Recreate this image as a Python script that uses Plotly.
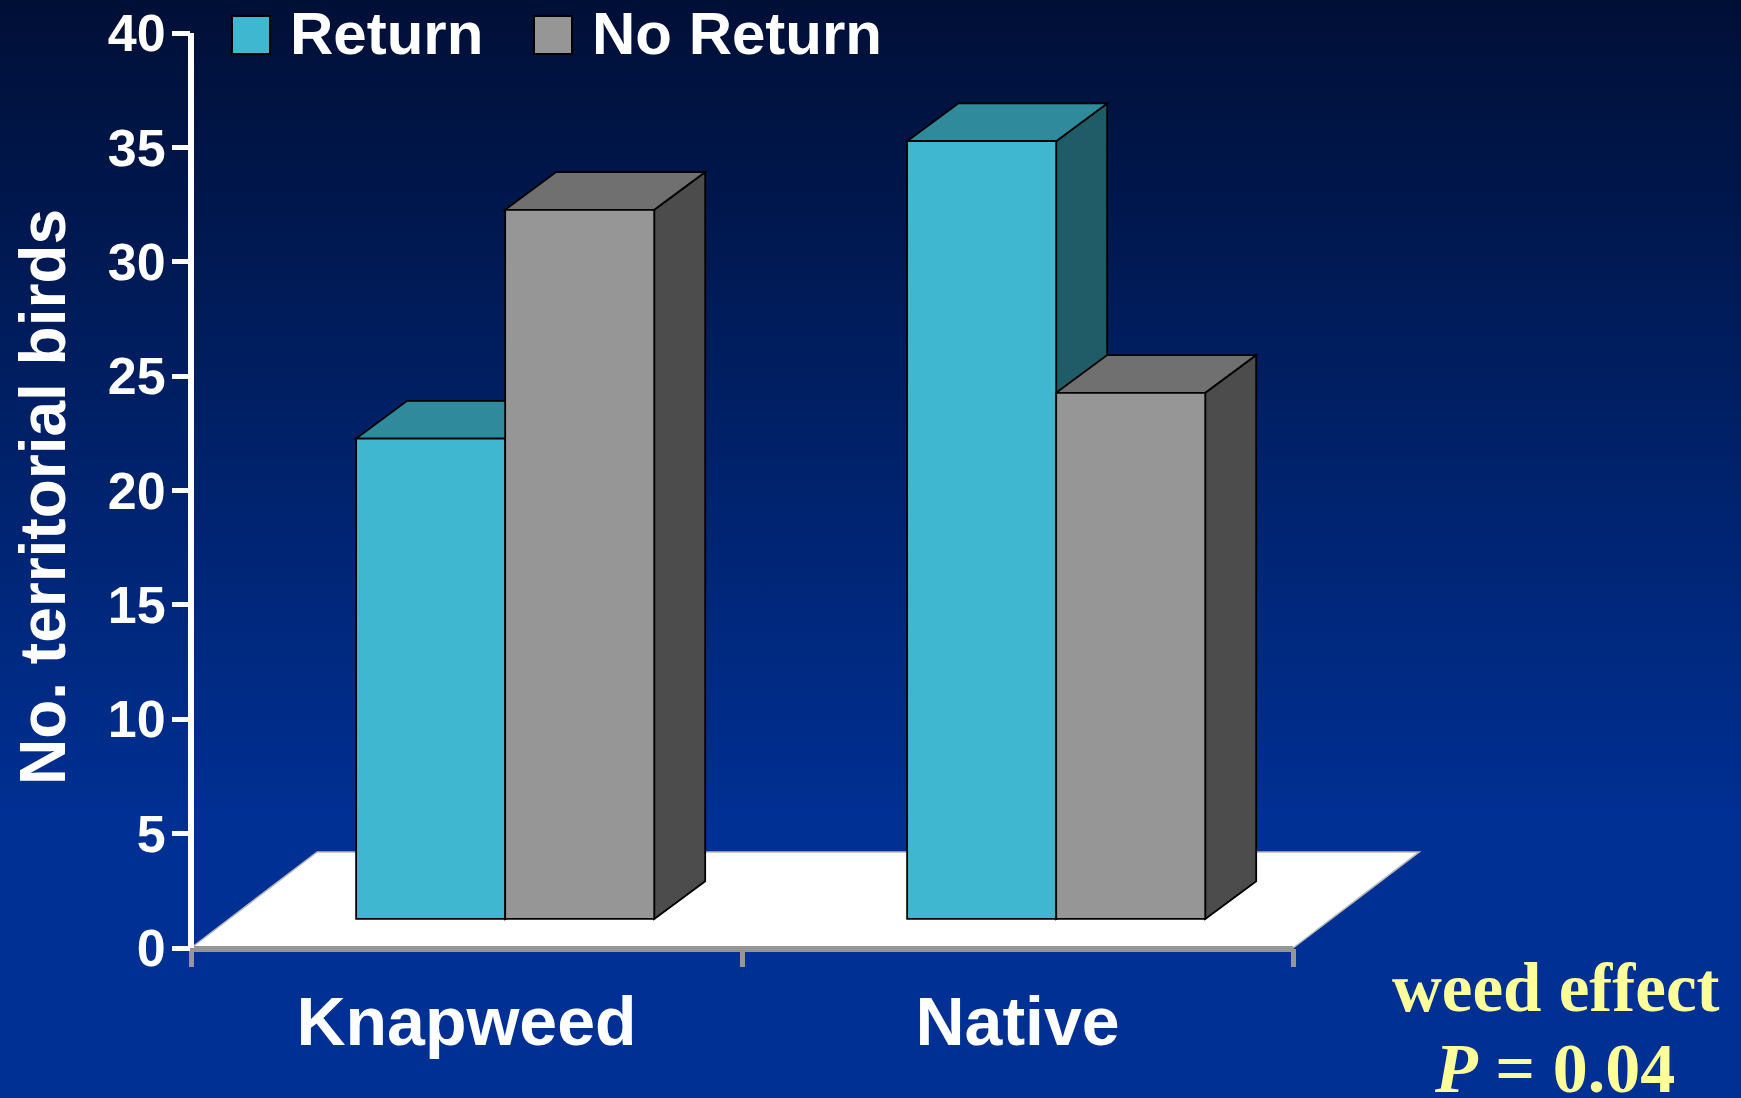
import base64
import plotly.graph_objects as go

categories = ["Knapweed", "Native"]
return_birds = [21, 34]
no_return_birds = [31, 23]
y_ticks = [0, 5, 10, 15, 20, 25, 30, 35, 40]
series_names = ["Return", "No Return"]

WIDTH, HEIGHT = 1741, 1098
LEFT, RIGHT, TOP, BOTTOM = 191, 448, 33, 150
PLOT_W = WIDTH - LEFT - RIGHT
PLOT_H = HEIGHT - TOP - BOTTOM

# fake 3d look: how far the box goes back, in axis units
BAR_W = 0.2705
BAR_SHIFT = 0.0702
BAR_BASE = 1.27
DEPTH_X = 0.0925
DEPTH_Y = 1.65
FLOOR_X = 0.229
FLOOR_Y = 4.2

CYAN, CYAN_TOP, CYAN_SIDE = "#3fb7d0", "#2f8a9c", "#205c68"
GREY, GREY_TOP, GREY_SIDE = "#969696", "#707070", "#4c4c4c"
YELLOW = "#ffff99"
SANS = "Liberation Sans"
SERIF = "Liberation Serif"


def paper_x(px):
    return (px - LEFT) / PLOT_W


def paper_y(px):
    return 1 - (px - TOP) / PLOT_H


def polygon(points, fill):
    path = "M" + " L".join(f"{x},{y}" for x, y in points) + " Z"
    return dict(type="path", path=path, xref="x", yref="y", layer="below",
                fillcolor=fill, line=dict(color="black", width=1.8))


def box_shapes(left, value, top_col, side_col):
    right = left + BAR_W
    high = BAR_BASE + value
    side = [(right, BAR_BASE), (right + DEPTH_X, BAR_BASE + DEPTH_Y),
            (right + DEPTH_X, high + DEPTH_Y), (right, high)]
    top = [(left, high), (left + DEPTH_X, high + DEPTH_Y),
           (right + DEPTH_X, high + DEPTH_Y), (right, high)]
    return [polygon(side, side_col), polygon(top, top_col)]


positions = list(range(len(categories)))

# the floor sticks out past the axis range, so it goes in paper coordinates (x axis spans 2 units)
floor_dx = FLOOR_X / 2
floor_dy = FLOOR_Y / 40
shapes = [dict(type="path", xref="paper", yref="paper", layer="below",
               path=f"M0,0 L{floor_dx},{floor_dy} L{1 + floor_dx},{floor_dy} L1,0 Z",
               fillcolor="white", line=dict(color="#b8b8b8", width=1.5))]
for i in positions:
    shapes += box_shapes(i + BAR_SHIFT - BAR_W, return_birds[i], CYAN_TOP, CYAN_SIDE)
for i in positions:
    shapes += box_shapes(i + BAR_SHIFT, no_return_birds[i], GREY_TOP, GREY_SIDE)

# axis lines sit centred on the plot edge in the original, plotly's own would sit outside it
shapes.append(dict(type="line", xref="paper", yref="paper", x0=0, x1=1, y0=paper_y(949), y1=paper_y(949),
                   line=dict(color=GREY, width=6)))
shapes.append(dict(type="line", xref="paper", yref="paper", x0=0, x1=0, y0=0, y1=1,
                   line=dict(color="white", width=6)))

# legend keys are much bigger than plotly's legend can draw them
for x0, col in [(232, CYAN), (534, GREY)]:
    shapes.append(dict(type="rect", xref="paper", yref="paper",
                       x0=paper_x(x0), x1=paper_x(x0 + 38), y0=paper_y(54), y1=paper_y(16),
                       fillcolor=col, line=dict(color="black", width=2)))

fig = go.Figure()
fig.add_trace(go.Bar(x=positions, y=return_birds, base=BAR_BASE, name=series_names[0],
                     width=BAR_W, offset=BAR_SHIFT - BAR_W, marker_color=CYAN,
                     marker_line=dict(color="black", width=1.8)))
fig.add_trace(go.Bar(x=positions, y=no_return_birds, base=BAR_BASE, name=series_names[1],
                     width=BAR_W, offset=BAR_SHIFT, marker_color=GREY,
                     marker_line=dict(color="black", width=1.8)))

svg = f"""<svg xmlns='http://www.w3.org/2000/svg' width='{WIDTH}' height='{HEIGHT}' preserveAspectRatio='none'>
<defs><linearGradient id='g' x1='0' y1='0' x2='0' y2='1'>
<stop offset='0' stop-color='#000f36'/><stop offset='0.75' stop-color='#003094'/>
<stop offset='1' stop-color='#003094'/></linearGradient></defs>
<rect width='100%' height='100%' fill='url(#g)'/></svg>"""
background = "data:image/svg+xml;base64," + base64.b64encode(svg.encode()).decode()

annotations = [
    dict(text=f"<b>{series_names[0]}</b>", x=paper_x(288), y=paper_y(33),
         font=dict(family=SANS, size=60, color="white"), xanchor="left", yanchor="middle"),
    dict(text=f"<b>{series_names[1]}</b>", x=paper_x(590), y=paper_y(33),
         font=dict(family=SANS, size=60, color="white"), xanchor="left", yanchor="middle"),
    dict(text="<b>No. territorial birds</b>", x=paper_x(43), y=paper_y(497), textangle=-90,
         font=dict(family=SANS, size=64, color="white"), xanchor="center", yanchor="middle"),
    dict(text="<b>weed effect</b>", x=paper_x(1556), y=paper_y(988),
         font=dict(family=SERIF, size=69, color=YELLOW), xanchor="center", yanchor="middle"),
    # box kept short so it ends at the page edge, the glyphs still fit inside it
    dict(text="<b><i>P</i> = 0.04</b>", x=paper_x(1554), y=paper_y(1063.5), height=67, valign="top",
         font=dict(family=SERIF, size=70, color=YELLOW), xanchor="center", yanchor="middle"),
]
for a in annotations:
    a.update(xref="paper", yref="paper", showarrow=False)

fig.update_layout(
    width=WIDTH, height=HEIGHT,
    margin=dict(l=LEFT, r=RIGHT, t=TOP, b=BOTTOM, autoexpand=False),
    paper_bgcolor="rgba(0,0,0,0)", plot_bgcolor="rgba(0,0,0,0)",
    barmode="overlay", showlegend=False,
    shapes=shapes, annotations=annotations,
    images=[dict(source=background, xref="paper", yref="paper", layer="below",
                 x=paper_x(0), y=paper_y(0), sizex=WIDTH / PLOT_W, sizey=HEIGHT / PLOT_H,
                 sizing="stretch", xanchor="left", yanchor="top")],
)
fig.update_xaxes(range=[-0.5, 1.5], tickvals=positions, ticktext=[f"<b>{c}</b>" for c in categories],
                 ticks="", ticklabelstandoff=28,
                 tickfont=dict(family=SANS, size=68, color="white"),
                 showgrid=False, zeroline=False, showline=False,
                 minor=dict(tickvals=[-0.5, 0.5, 1.5], ticks="outside", ticklen=18, tickwidth=5,
                            tickcolor=GREY, showgrid=False))
fig.update_yaxes(range=[0, 40], tickvals=y_ticks, ticktext=[f"<b>{t}</b>" for t in y_ticks],
                 ticks="outside", ticklen=18, tickwidth=5, tickcolor="white", ticklabelstandoff=-4,
                 tickfont=dict(family=SANS, size=52, color="white"),
                 showgrid=False, zeroline=False, showline=False)

fig.write_html("out.html", config=dict(displayModeBar=False),
               post_script="document.body.style.margin='0';")
